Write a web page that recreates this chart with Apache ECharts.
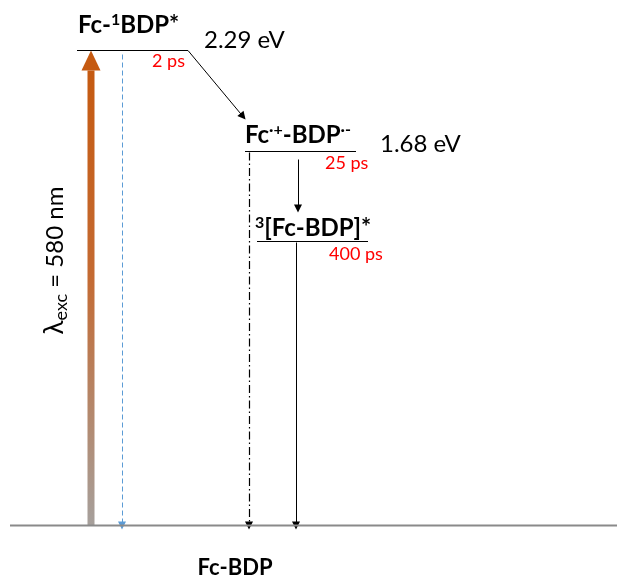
<!DOCTYPE html>
<html><head><meta charset="utf-8">
<script src="https://cdn.jsdelivr.net/npm/echarts@6/dist/echarts.min.js"></script>
<style>html,body{margin:0;padding:0;background:#fff}#c{width:617px;height:577px}</style>
</head><body><div id="c"></div>
<script>
// ---- data ----
const stateNames = ['{b|Fc-}{s|1}{b|BDP*}', '{b|Fc}{s|·+}{b|-BDP}{s|·-}', '{s|3}{b|[Fc-BDP]*}'];
const stateEnergies = ['2.29 eV', '1.68 eV', ''];
const lifetimes = ['2 ps', '25 ps', '400 ps'];
const levelHeights = [475, 374, 284];   // diagram height above ground state
const groundHeight = 0;
const groundName = 'Fc-BDP';
const excitationLabel = '{l|λ}{sub|exc}{t| = 580 nm}';

// ---- layout ----
const levelSpan = [[77, 188], [245, 356], [257, 368]];
const groundSpan = [10, 617];
const FONT = 'Lato';

function H(i) { return i < 0 ? groundHeight : levelHeights[i]; }

const levelSeries = levelSpan.map((s, i) => ({
  type: 'line', symbol: 'none', silent: true,
  lineStyle: { color: '#000', width: 1, opacity: 1 },
  data: [[s[0], H(i)], [s[1], H(i)]]
}));
levelSeries.push({
  type: 'line', symbol: 'none', silent: true,
  lineStyle: { color: '#8a8a8a', width: 2, opacity: 1 },
  data: [[groundSpan[0], groundHeight], [groundSpan[1], groundHeight]]
});

const transitions = [
  { coords: [[122, H(0) - 4], [122, H(-1)]], lineStyle: { color: '#5B9BD5', type: [5, 3], width: 1, opacity: 1 } },
  { coords: [[levelSpan[0][1], H(0)], [243, H(0) - 66]], lineStyle: { color: '#000', type: 'solid', width: 1, opacity: 1 } },
  { coords: [[249, H(1) - 1], [249, H(-1)]], lineStyle: { color: '#000', type: [8, 3, 1.5, 3], width: 1.2, opacity: 1 } },
  { coords: [[298, H(1) - 8], [298, H(2) + 33]], lineStyle: { color: '#000', type: 'solid', width: 1, opacity: 1 } },
  { coords: [[296, H(2) - 1], [296, H(-1)]], lineStyle: { color: '#000', type: 'solid', width: 1, opacity: 1 } }
];

function labelPoint(x, y, text, style) {
  return { value: [x, y], label: Object.assign({ show: true, formatter: text, position: [0, 0], align: 'left', verticalAlign: 'middle' }, style) };
}
const rich = {
  b: { fontFamily: FONT, fontWeight: 'bold', fontSize: 24, color: '#000', lineHeight: 28 },
  s: { fontFamily: FONT, fontWeight: 'bold', fontSize: 16, color: '#000', verticalAlign: 'top', lineHeight: 28 }
};
const nameAnchors = [[78, H(0) + 25], [245, H(1) + 16], [255, H(2) + 13]];
const energyAnchors = [[204, H(0) + 10], [380, H(1) + 7]];
const lifeAnchors = [[152, H(0) - 11], [325, H(1) - 12], [329, H(2) - 13]];

const labels = [];
stateNames.forEach((t, i) => labels.push(labelPoint(nameAnchors[i][0], nameAnchors[i][1], t, { rich })));
stateEnergies.forEach((t, i) => { if (t) labels.push(labelPoint(energyAnchors[i][0], energyAnchors[i][1], t, { fontFamily: FONT, fontSize: 24, color: '#000' })); });
lifetimes.forEach((t, i) => labels.push(labelPoint(lifeAnchors[i][0], lifeAnchors[i][1], t, { fontFamily: FONT, fontSize: 18, color: '#FF0000' })));
labels.push(labelPoint(235, groundHeight - 42, groundName, { fontFamily: FONT, fontWeight: 'bold', fontSize: 22, color: '#000', align: 'center' }));
labels.push(labelPoint(55, groundHeight + 265, excitationLabel, {
  rotate: 90, align: 'center',
  rich: {
    l: { fontFamily: FONT, fontSize: 26, color: '#000' },
    sub: { fontFamily: FONT, fontSize: 18, color: '#000', verticalAlign: 'bottom', padding: [12, 0, 0, 0] },
    t: { fontFamily: FONT, fontSize: 24, color: '#000' }
  }
}));

const chart = echarts.init(document.getElementById('c'), null, { renderer: 'canvas' });
chart.setOption({
  animation: false,
  backgroundColor: '#fff',
  grid: { left: 0, right: 0, top: 0, bottom: 0 },
  xAxis: { type: 'value', min: 0, max: 617, show: false },
  yAxis: { type: 'value', min: -51.5, max: 525.5, show: false },
  series: [
    ...levelSeries,
    {
      type: 'custom', silent: true,
      data: [[91, H(-1), H(0)]],
      renderItem(params, api) {
        const base = api.coord([api.value(0), api.value(1)]);
        const tip = api.coord([api.value(0), api.value(2)]);
        const x = base[0], headH = 20, headW = 9.5, w = 7;
        return {
          type: 'group',
          children: [
            { type: 'rect', shape: { x: x - w / 2, y: tip[1] + headH, width: w, height: base[1] - tip[1] - headH },
              style: { fill: new echarts.graphic.LinearGradient(0, 0, 0, 1, [
                { offset: 0, color: '#C55A11' }, { offset: 0.45, color: '#C46A32' }, { offset: 1, color: '#A6A09C' }]) } },
            { type: 'polygon', shape: { points: [[x - headW, tip[1] + headH], [x, tip[1]], [x + headW, tip[1] + headH]] },
              style: { fill: '#C55A11' } }
          ]
        };
      }
    },
    {
      type: 'lines', coordinateSystem: 'cartesian2d', silent: true,
      symbol: ['none', 'triangle'], symbolSize: 8,
      lineStyle: { opacity: 1 },
      data: transitions
    },
    {
      type: 'scatter', symbolSize: 0, silent: true, itemStyle: { opacity: 1 }, data: labels
    }
  ]
});
</script></body></html>
